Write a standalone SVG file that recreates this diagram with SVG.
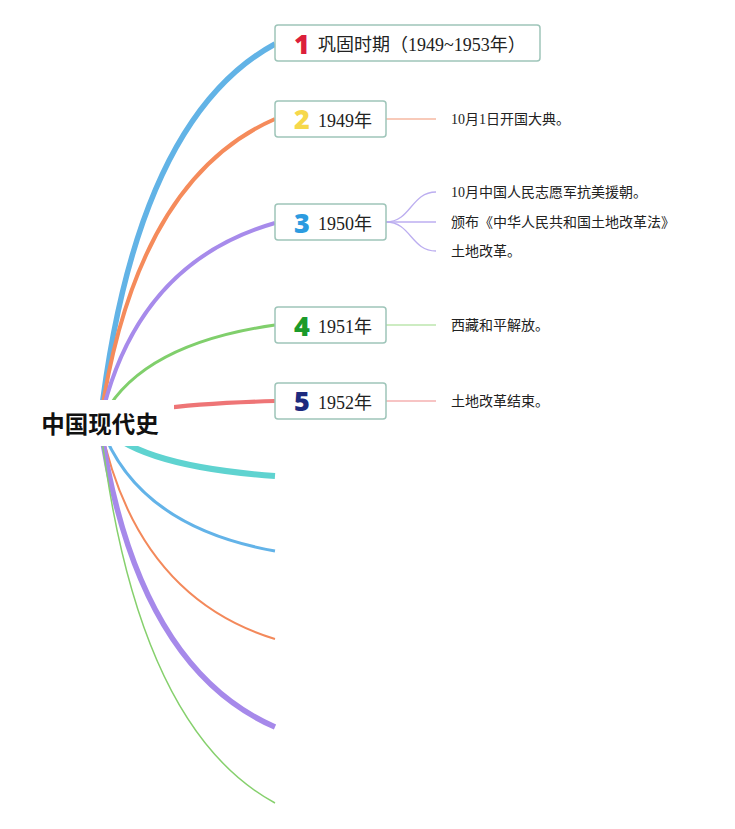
<svg xmlns="http://www.w3.org/2000/svg" width="735" height="829" viewBox="0 0 735 829">
<style>
  .bg{fill:#ffffff}
  .box{fill:#ffffff;stroke:#9ec5b9;stroke-width:1.5}
  .main{fill:none;stroke-linecap:butt}
  .sub{fill:none;stroke-width:1.3}
  .t{font-family:"Liberation Serif","Noto Sans CJK SC",serif;font-size:18px;fill:#222222}
  .c{font-family:"Liberation Serif","Noto Sans CJK SC",serif;font-size:14px;fill:#222222}
  .num{font-family:"Open Sans","DejaVu Sans",sans-serif;font-size:27px;font-weight:800;text-anchor:middle}
  .root{font-family:"Noto Sans CJK SC","Noto Sans",sans-serif;font-size:23.5px;font-weight:bold;fill:#111111;text-anchor:middle}
</style>
<rect class="bg" x="0" y="0" width="735" height="829"/>
<g id="connectors">
  <path class="main" d="M100,423 Q135,120 275,44" stroke="#62b3e6" stroke-width="5.5"/>
  <path class="main" d="M100,423 Q135,180 275,119" stroke="#f58b5b" stroke-width="4"/>
  <path class="main" d="M100,423 Q135,263 275,223" stroke="#a78beb" stroke-width="4"/>
  <path class="main" d="M100,423 Q135,345 275,325" stroke="#80cf6c" stroke-width="3"/>
  <path class="main" d="M100,423 Q135,405 275,401" stroke="#ee7576" stroke-width="4"/>
  <path class="main" d="M100,423 Q135,466 275,476" stroke="#5fd3d0" stroke-width="6"/>
  <path class="main" d="M100,423 Q135,526 275,551" stroke="#63b3e8" stroke-width="3"/>
  <path class="main" d="M100,423 Q135,596 275,639" stroke="#f3895b" stroke-width="2"/>
  <path class="main" d="M100,423 Q135,666 275,727" stroke="#a689ea" stroke-width="5.5"/>
  <path class="main" d="M100,423 Q135,727 275,803" stroke="#86d06d" stroke-width="1.5"/>
  <path class="sub" d="M386,119 L436,119" stroke="#f6b9a2"/>
  <path class="sub" d="M386,222 C411,222 411,192 436,192" stroke="#bcaef0"/>
  <path class="sub" d="M386,222 L436,222" stroke="#bcaef0"/>
  <path class="sub" d="M386,222 C411,222 411,251 436,251" stroke="#bcaef0"/>
  <path class="sub" d="M386,325 L436,325" stroke="#bde6ae"/>
  <path class="sub" d="M386,401 L436,401" stroke="#f5b0b0"/>
</g>
<g id="root">
  <rect class="bg" x="26" y="400" width="148" height="46"/>
  <text class="root" x="100" y="433">中国现代史</text>
</g>
<g id="n1">
  <rect class="box" x="275" y="25" width="265" height="36" rx="3"/>
  <text class="num" x="302" y="54" fill="#dc1f3b">1</text>
  <text class="t" x="318" y="50.5">巩固时期（1949~1953年）</text>
</g>
<g id="n2">
  <rect class="box" x="275" y="101" width="111" height="36" rx="3"/>
  <text class="num" x="302" y="129" fill="#f6d84b">2</text>
  <text class="t" x="318" y="126.5">1949年</text>
</g>
<g id="n3">
  <rect class="box" x="275" y="204" width="111" height="36" rx="3"/>
  <text class="num" x="302" y="233" fill="#2c9be0">3</text>
  <text class="t" x="318" y="229.5">1950年</text>
</g>
<g id="n4">
  <rect class="box" x="275" y="307" width="111" height="36" rx="3"/>
  <text class="num" x="302" y="336" fill="#1b9a2b">4</text>
  <text class="t" x="318" y="332.5">1951年</text>
</g>
<g id="n5">
  <rect class="box" x="275" y="383" width="111" height="36" rx="3"/>
  <text class="num" x="302" y="411" fill="#1d2a7e">5</text>
  <text class="t" x="318" y="408.5">1952年</text>
</g>
<g id="c2"><text class="c" x="451" y="124">10月1日开国大典。</text></g>
<g id="c3a"><text class="c" x="451" y="197">10月中国人民志愿军抗美援朝。</text></g>
<g id="c3b"><text class="c" x="451" y="227">颁布《中华人民共和国土地改革法》</text></g>
<g id="c3c"><text class="c" x="451" y="256">土地改革。</text></g>
<g id="c4"><text class="c" x="451" y="330">西藏和平解放。</text></g>
<g id="c5"><text class="c" x="451" y="406">土地改革结束。</text></g>
</svg>
